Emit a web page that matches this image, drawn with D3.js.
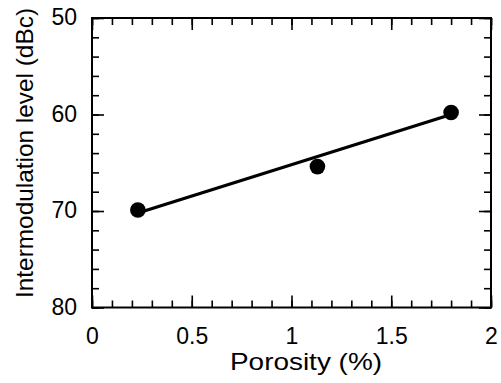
<!DOCTYPE html>
<html>
<head>
<meta charset="utf-8">
<script src="https://cdn.jsdelivr.net/npm/d3@7"></script>
<style>
  body { margin: 0; background: #fff; }
  svg { display: block; }
  text { font-family: "Liberation Sans", Arial, Helvetica, sans-serif; fill: #000; }
  .domain { stroke: none; }
  .tick line { stroke: #000; stroke-width: 1.6; }
</style>
</head>
<body>
<div id="chart"></div>
<script>
// measured points
var porosity = [0.23, 1.13, 1.8];
var imLevel = [69.9, 65.4, 59.8];
// fitted straight line, end points
var fitX = [0.23, 1.8];
var fitY = [70.2, 60.0];

var xMajor = [0, 0.5, 1, 1.5, 2];
var yMajor = [50, 60, 70, 80];

var width = 501, height = 383;
var margin = { left: 92, right: 10, top: 18, bottom: 75.5 };
var plotW = width - margin.left - margin.right;
var plotH = height - margin.top - margin.bottom;

var svg = d3.select("#chart").append("svg")
  .attr("width", width)
  .attr("height", height);

var g = svg.append("g")
  .attr("transform", `translate(${margin.left},${margin.top})`);

var x = d3.scaleLinear().domain([0, 2]).range([0, plotW]);
// y runs downward: 50 at top, 80 at bottom
var y = d3.scaleLinear().domain([50, 80]).range([0, plotH]);

var xMinor = d3.range(0, 2.0001, 0.1).map(v => +v.toFixed(1));
var yMinor = d3.range(50, 80.0001, 2);

var majorLen = 12, minorLen = 7;

function fmtX(v) { return v === 0 || v === 1 || v === 2 ? String(v) : String(v); }

// bottom
g.append("g").attr("transform", `translate(0,${plotH})`)
  .call(d3.axisBottom(x).tickValues(xMinor).tickSize(-minorLen).tickFormat(""));
var bottomAxis = g.append("g").attr("transform", `translate(0,${plotH})`)
  .call(d3.axisBottom(x).tickValues(xMajor).tickSize(-majorLen).tickPadding(20).tickFormat(fmtX));
bottomAxis.selectAll("text").style("font-size", "23px");

// top
g.append("g")
  .call(d3.axisTop(x).tickValues(xMinor).tickSize(-minorLen).tickFormat(""));
g.append("g")
  .call(d3.axisTop(x).tickValues(xMajor).tickSize(-majorLen).tickFormat(""));

// left
g.append("g")
  .call(d3.axisLeft(y).tickValues(yMinor).tickSize(-minorLen).tickFormat(""));
var leftAxis = g.append("g")
  .call(d3.axisLeft(y).tickValues(yMajor).tickSize(-majorLen).tickPadding(15));
leftAxis.selectAll("text").style("font-size", "23px").attr("dy", "0.3em");

// right
g.append("g").attr("transform", `translate(${plotW},0)`)
  .call(d3.axisRight(y).tickValues(yMinor).tickSize(-minorLen).tickFormat(""));
g.append("g").attr("transform", `translate(${plotW},0)`)
  .call(d3.axisRight(y).tickValues(yMajor).tickSize(-majorLen).tickFormat(""));

// frame
g.append("rect")
  .attr("x", 0).attr("y", 0)
  .attr("width", plotW).attr("height", plotH)
  .attr("fill", "none")
  .attr("stroke", "#000")
  .attr("stroke-width", 2);

// fit line
var line = d3.line().x(d => x(d[0])).y(d => y(d[1]));
g.append("path")
  .datum(d3.zip(fitX, fitY))
  .attr("d", line)
  .attr("fill", "none")
  .attr("stroke", "#000")
  .attr("stroke-width", 3.2);

// points
g.selectAll(".pt")
  .data(d3.zip(porosity, imLevel))
  .enter().append("circle")
  .attr("class", "pt")
  .attr("cx", d => x(d[0]))
  .attr("cy", d => y(d[1]))
  .attr("r", 7.8)
  .attr("fill", "#000");

// axis titles
svg.append("text")
  .attr("x", 306)
  .attr("y", 370)
  .attr("text-anchor", "middle")
  .attr("textLength", 152)
  .attr("lengthAdjust", "spacingAndGlyphs")
  .style("font-size", "24px")
  .text("Porosity (%)");

svg.append("text")
  .attr("transform", "translate(33,153) rotate(-90)")
  .attr("text-anchor", "middle")
  .attr("textLength", 290)
  .attr("lengthAdjust", "spacingAndGlyphs")
  .style("font-size", "24px")
  .text("Intermodulation level (dBc)");
</script>
</body>
</html>
